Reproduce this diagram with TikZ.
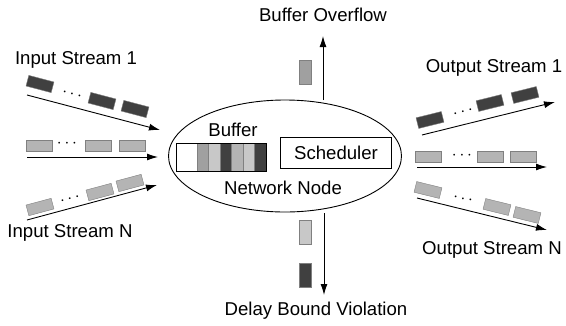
\documentclass[tikz,border=0pt]{standalone}
\usepackage{fontspec}
\setmainfont{Liberation Sans}
\usetikzlibrary{shapes.geometric,arrows.meta}
\definecolor{pdark}{HTML}{404040}
\definecolor{pgray}{HTML}{B4B4B4}
\definecolor{pmid}{HTML}{A0A0A0}
\definecolor{plight}{HTML}{C8C8C8}
\begin{document}
\begin{tikzpicture}[x=1pt,y=-1pt,
  lbl/.style={font=\fontsize{18.6}{20}\selectfont, inner sep=0pt},
  flow/.style={draw=black, line width=0.9pt, -{Latex[length=11pt,width=7pt]}},
  darkpkt/.style={draw=gray, fill=pdark, minimum width=26pt, minimum height=11pt, inner sep=0pt},
  graypkt/.style={draw=gray, fill=pgray, minimum width=26pt, minimum height=11pt, inner sep=0pt},
  vpkt/.style={draw=gray, minimum width=12pt, minimum height=24pt, inner sep=0pt},
  dots/.style={font=\fontsize{18}{18}\selectfont\bfseries, inner sep=0pt},
  cell/.style={draw=gray, line width=0.6pt}]
\useasboundingbox (0,0) rectangle (566,325);

% network node
\node[ellipse, draw, line width=0.9pt, minimum width=233pt, minimum height=112pt] (nn) at (285,156) {};
\node[lbl] (buflbl) at (233,130) {Buffer};
\node[lbl] (nnlbl) at (283,188) {Network Node};
\node[lbl, draw, line width=0.8pt, minimum width=111pt, minimum height=31pt] (sched) at (336,153) {Scheduler};
% buffer cells
\draw[cell, fill=white] (176,143) rectangle (197,171);
\draw[cell, fill=pmid] (197,143) rectangle (208.5,171);
\draw[cell, fill=plight] (208.5,143) rectangle (220,171);
\draw[cell, fill=pdark] (220,143) rectangle (231.5,171);
\draw[cell, fill=pgray] (231.5,143) rectangle (243,171);
\draw[cell, fill=plight] (243,143) rectangle (254.5,171);
\draw[cell, fill=pdark] (254.5,143) rectangle (266,171);
\node[draw=black, line width=0.8pt, minimum width=90pt, minimum height=28pt, inner sep=0pt] (buf) at (221,157) {};

% input streams
\node[lbl] (in1) at (76,60) {Input Stream 1};
\node[lbl] (inN) at (70,233) {Input Stream N};
\coordinate (i1s) at (27,95); \coordinate (i1e) at (160,130);
\coordinate (i2s) at (27,157); \coordinate (i2e) at (158,157);
\coordinate (i3s) at (27,220); \coordinate (i3e) at (157,185);
\draw[flow] (i1s) -- (i1e);
\draw[flow] (i2s) -- (i2e);
\draw[flow] (i3s) -- (i3e);
\node[darkpkt, rotate=-14.7] (p11) at (40,84) {};
\node[dots, rotate=-14.7] (d11) at (72,94) {$\cdots$};
\node[darkpkt, rotate=-14.7] (p12) at (102,101) {};
\node[darkpkt, rotate=-14.7] (p13) at (135,109) {};
\node[graypkt] (p21) at (39,146) {};
\node[dots] (d21) at (67,144) {$\cdots$};
\node[graypkt] (p22) at (98,146) {};
\node[graypkt] (p23) at (132,146) {};
\node[graypkt, rotate=15] (p31) at (40,207) {};
\node[dots, rotate=15] (d31) at (70,199) {$\cdots$};
\node[graypkt, rotate=15] (p32) at (100,192) {};
\node[graypkt, rotate=15] (p33) at (130,183) {};

% output streams
\node[lbl] (out1) at (494,68) {Output Stream 1};
\node[lbl] (outN) at (492,250) {Output Stream N};
\coordinate (o1s) at (422,135); \coordinate (o1e) at (555,102);
\coordinate (o2s) at (417,167); \coordinate (o2e) at (547,167);
\coordinate (o3s) at (417,198); \coordinate (o3e) at (547,230);
\draw[flow] (o1s) -- (o1e);
\draw[flow] (o2s) -- (o2e);
\draw[flow] (o3s) -- (o3e);
\node[darkpkt, rotate=13.9] (q11) at (430,120) {};
\node[dots, rotate=13.9] (e11) at (463,112) {$\cdots$};
\node[darkpkt, rotate=13.9] (q12) at (490,103) {};
\node[darkpkt, rotate=13.9] (q13) at (525,95) {};
\node[graypkt] (q21) at (428,157) {};
\node[dots] (e21) at (462,156) {$\cdots$};
\node[graypkt] (q22) at (490,157) {};
\node[graypkt] (q23) at (523,157) {};
\node[graypkt, rotate=-13.8] (q31) at (428,190) {};
\node[dots, rotate=-13.8] (e31) at (463,199) {$\cdots$};
\node[graypkt, rotate=-13.8] (q32) at (497,207) {};
\node[graypkt, rotate=-13.8] (q33) at (527,215) {};

% overflow / violation
\coordinate (ovs) at (323,100); \coordinate (ove) at (323,36);
\draw[flow] (ovs) -- (ove);
\node[lbl] (ovl) at (323,15) {Buffer Overflow};
\node[vpkt, fill=pmid] (ovp) at (305,72) {};
\coordinate (dvs) at (324,213); \coordinate (dve) at (324,295);
\draw[flow] (dvs) -- (dve);
\node[lbl] (dvl) at (316,311) {Delay Bound Violation};
\node[vpkt, fill=plight] (dvp1) at (305,232) {};
\node[vpkt, fill=pdark] (dvp2) at (305,275) {};
\end{tikzpicture}
\end{document}
